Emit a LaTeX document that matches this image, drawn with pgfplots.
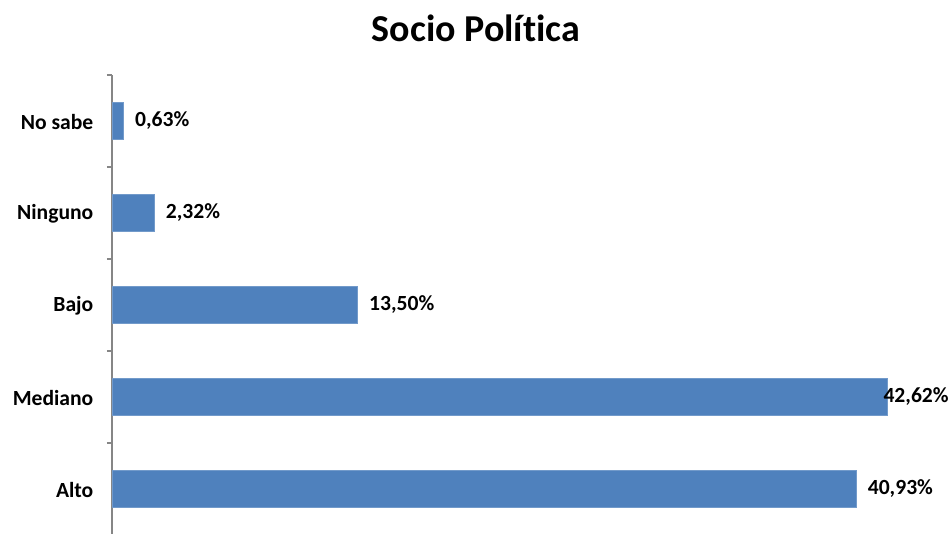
\documentclass[border=0pt]{standalone}
\usepackage{pgfplots}
\pgfplotsset{compat=1.18}
\usepackage{fontspec}
\setmainfont{Carlito}[Ligatures=NoCommon]
\definecolor{barblue}{HTML}{4F81BD}
\definecolor{axisgray}{HTML}{868686}
\begin{document}
\begin{tikzpicture}[x=0.75pt,y=0.75pt]
\path[use as bounding box] (0,0) rectangle (950,533);
\node[font=\fontsize{28.5}{32}\selectfont\bfseries] at (476,505) {Socio Política};
\begin{axis}[
    at={(112*0.75pt,-2*0.75pt)},
    anchor=south west,
    scale only axis,
    width=45*18.18*0.75pt,
    height=460*0.75pt,
    xbar,
    bar width=37*0.75pt,
    bar shift=0pt,
    xmin=0, xmax=45,
    ymin=-0.5, ymax=4.5,
    axis x line=none,
    axis y line*=left,
    axis line style={axisgray, line width=1pt, -},
    ytick={0,1,2,3,4},
    yticklabels={Alto,Mediano,Bajo,Ninguno,No sabe},
    major tick length=0pt,
    minor ytick={-0.5,0.5,1.5,2.5,3.5,4.5},
    minor tick length=5*0.75pt,
    tick align=outside,
    every minor tick/.style={axisgray, line width=1pt},
    yticklabel style={font=\fontsize{16.2}{19}\selectfont\bfseries, xshift=-14*0.75pt, yshift=-1*0.75pt},
    /pgf/number format/assume math mode=true,
    nodes near coords={\pgfmathprintnumber[fixed,fixed zerofill,precision=2,use comma,assume math mode=true]{\pgfplotspointmeta}\%},
    nodes near coords style={font=\fontsize{16.2}{19}\selectfont\bfseries, anchor=west, xshift=7*0.75pt},
    clip=false,
]
\addplot[fill=barblue, draw=barblue!80!white] coordinates {
    (40.93,0) (13.50,2) (2.32,3) (0.63,4)
};
\addplot[fill=barblue, draw=barblue!80!white, nodes near coords style={xshift=-15*0.75pt}] coordinates {
    (42.62,1)
};
\end{axis}
\end{tikzpicture}
\end{document}
